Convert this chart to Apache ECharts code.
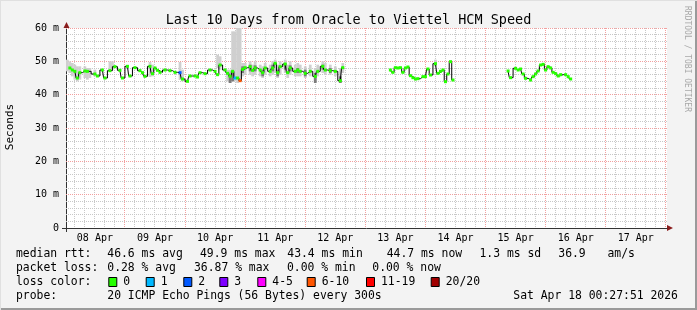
<!DOCTYPE html>
<html><head><meta charset="utf-8">
<script src="https://cdn.jsdelivr.net/npm/echarts@6/dist/echarts.min.js"></script>
<style>html,body{margin:0;padding:0;background:#f3f3f3}#c{width:697px;height:310px}</style>
</head><body><div id="c"></div>
<script>
// ---------------- data ----------------
const titleText = 'Last 10 Days from Oracle to Viettel HCM Speed';
const yAxisName = 'Seconds';
const sideText = 'RRDTOOL / TOBI OETIKER';
// x axis in hours since 08 Apr 00:00; window = last 10 days ending 18 Apr 00:27:51
const xMin = 0.464, xMax = 240.464;
const dayLabels = ['08 Apr','09 Apr','10 Apr','11 Apr','12 Apr','13 Apr','14 Apr','15 Apr','16 Apr','17 Apr'];
const dayLabelHours = [12,36,60,84,108,132,156,180,204,228];
const midnightHours = [24,48,72,96,120,144,168,192,216,240];
const yMajor = [10,20,30,40,50,60];
const yMinor = [2,4,6,8,12,14,16,18,22,24,26,28,32,34,36,38,42,44,46,48,52,54,56,58];

// median RTT (ms), three segments of data
const seg1Hours = [2,3,4,5,6,8,9,12,13,15,16,18,20,22,23,25,26,28,30,31,32,34,35,36,37,38,40,42,44,46,47,49,50,52,53,54,56,58,60,61,62,64,65,66,67,68,69,70,71,72,74,75,76,78,79,80,82,83,84,85,86,88,89,90,92,93,94,96,98,100,101,103,104,106,108,110,111];
const seg1Ms = [48,47.4,47,45,46.6,47.1,47,46.2,45.6,47.4,45,47.2,48.4,47.3,45,48.5,45.6,48.1,47.2,46.6,45.5,48.5,46.3,48,47.3,46.7,47.4,47.2,46.7,46.6,44.7,44,45.6,45.6,45.3,46.6,46.3,47.4,47,46,48.9,47.4,46.4,45.5,47,45,45,44.2,47.6,48.1,48.4,47.3,48,47.4,46.6,48,47,48,49.4,46.6,48.4,49.2,46.6,48,47,47.4,47,46.4,47,45.5,47,48.5,47.4,47.2,47,44.2,48.1];
const seg2Hours = [130,131,132,133,134,135,136,137,138,139,140,141,143,144,145,146,148,149,150,151,152,153,154,155];
const seg2Ms = [47.4,46.7,48.1,48,48.1,46.7,48,48.3,45.7,45.1,44.7,44.8,45.4,45.4,47.7,45.9,49.3,46.4,47,47.4,43.9,46.2,49.9,44.4];
const seg3Hours = [177,178,180,181,182,183,184,186,187,188,189,190,191,192,193,194,195,196,197,198,200,201,202];
const seg3Ms = [47.1,45.1,47.9,47.4,47.7,46.2,44.9,44.4,45.4,46.2,47.1,48.9,49.1,47.4,48.4,48,46.7,46.3,45.6,46,46,45.4,44.7];
// [hour, lost pings of 20]
const lossEvents = [[46,2],[68,1],[70,7]];

// smoke: [hour, low ms, high ms]
const smokeLight = [[1,47,50.5],[2,46.5,50],[3,45.5,49.5],[4,44.5,49],[5,44,48.5],[6,44.5,48.5],[8,45,48.5],[9,44.5,48],[10,45,48],[12,45.5,47.5],
 [18,47,50],[19,47.5,50],[34,45.3,49.8],[35,45.5,49],[46,44.4,49.8],[47,44,47.5],[61,48,52],[62,47.5,51.5],
 [65,44,47.5],[66,43.5,47.5],[67,44,59],[68,44,59],[69,43.5,60],[70,44,60],
 [71,45.5,49.5],[72,46,49.5],[74,46,50],[75,45.5,49],[76,46,50],[78,45.5,49],[79,45,48.5],[80,46,49.5],[82,45.5,49],[83,46,50],[84,46.5,50.5],[85,45,49],[86,46,50],[88,46.5,50.5],[89,45,49],[90,46,50],[92,45.5,49],[93,45.5,49.5],[94,45.5,49],[96,45,48.5],[98,45.5,49],[100,44,48],[101,45.5,49],[103,46.5,50],[104,46,49.5],[106,46,49],[108,45.5,48.5],[110,43.5,48],[111,46.5,49.5],
 [148,48.5,50.5]];
const smokeDark = [[66,43.5,46],[67,44,47],[71,46.5,48.5],[74,47,49],[76,47,48.8],[79,45.5,47.5],[83,47,49],[85,45.5,47.5],[88,47.5,49.5],[90,47,48.8],[93,46.5,48],[96,45.5,47.5],[100,43.5,46.5],[103,47.5,49],[106,46.5,48],[110,43.5,45.5]];

// legend texts
const rttLabel = 'median rtt:';
const rttStats = ['46.6 ms avg','49.9 ms max','43.4 ms min','44.7 ms now','1.3 ms sd','36.9','am/s'];
const lossLabel = 'packet loss:';
const lossStats = ['0.28 % avg','36.87 % max','0.00 % min','0.00 % now'];
const lossColorLabel = 'loss color:';
const lossClasses = ['0','1','2','3','4-5','6-10','11-19','20/20'];
const lossColors = ['#26ff00','#00b8ff','#0059ff','#7e00ff','#ff00ff','#ff5500','#ff0000','#a10000'];
const probeLabel = 'probe:';
const probeText = '20 ICMP Echo Pings (56 Bytes) every 300s';
const dateText = 'Sat Apr 18 00:27:51 2026';

// ---------------- layout / style ----------------
const MONO = '"DejaVu Sans Mono", "Liberation Mono", monospace';
const G = {left:66, top:28, width:601, height:200};
const rttX = [107.3,200,287.3,386.7,479.5,558.3,607.5];
const lossX = [107.3,194,287,372.3];
const boxX = [108.3,145.7,183.3,219.3,257.3,306.7,366,430.7];
const rowY = [254,268,282,296];
const majorColor = '#f2a0a0', minorColor = '#c8c8c8';

function lossClassOf(n){
  if(n<=0) return 0; if(n===1) return 1; if(n===2) return 2; if(n===3) return 3;
  if(n<=5) return 4; if(n<=10) return 5; if(n<=19) return 6; return 7;
}
const lossMap = {}; lossEvents.forEach(e=>{lossMap[e[0]]=e[1];});
function seg(h, v){ return h.map((x,i)=>({value:[x,v[i]], itemStyle:{color:lossColors[lossClassOf(lossMap[x]||0)]}})); }
const segments = [seg(seg1Hours,seg1Ms), seg(seg2Hours,seg2Ms), seg(seg3Hours,seg3Ms)];

const vMinor = [];
for(let h=4; h<xMax; h+=4){ if(h%24!==0) vMinor.push(h); }

function smokeRender(color){
  return function(params, api){
    const x = api.value(0), lo = api.value(1), hi = api.value(2);
    const p1 = api.coord([x-0.55, hi]), p2 = api.coord([x+0.55, lo]);
    return {type:'rect', shape:{x:p1[0], y:p1[1], width:p2[0]-p1[0], height:p2[1]-p1[1]}, style:{fill:color}};
  };
}
function vGrid(color){
  return function(params, api){
    const cs = params.coordSys;
    const x = Math.floor(api.coord([api.value(0), 0])[0]) + 0.5;
    return {type:'line', shape:{x1:x, y1:cs.y, x2:x, y2:cs.y+cs.height}, style:{stroke:color, lineWidth:1, lineDash:[1,1]}};
  };
}
function hGrid(color){
  return function(params, api){
    const cs = params.coordSys;
    const y = Math.floor(api.coord([xMin, api.value(0)])[1]) + 0.5;
    return {type:'line', shape:{x1:cs.x, y1:y, x2:cs.x+cs.width, y2:y}, style:{stroke:color, lineWidth:1, lineDash:[1,1]}};
  };
}

const chart = echarts.init(document.getElementById('c'));
const legendEls = [];
function txt(s, x, y, size, extra){
  legendEls.push({type:'text', x:x, y:y, silent:true, style:Object.assign({text:s, font:size+'px '+MONO, fill:'#000', align:'left', verticalAlign:'middle'}, extra||{})});
}
txt(rttLabel,16,rowY[0],11.4); rttStats.forEach((s,i)=>txt(s,rttX[i],rowY[0],11.4));
txt(lossLabel,16,rowY[1],11.4); lossStats.forEach((s,i)=>txt(s,lossX[i],rowY[1],11.4));
txt(lossColorLabel,16,rowY[2],11.4);
lossClasses.forEach((s,i)=>{
  legendEls.push({type:'rect', silent:true, shape:{x:boxX[i]+0.5, y:rowY[2]-4.5, width:8, height:9}, style:{fill:lossColors[i], stroke:'#000', lineWidth:1}});
  txt(s, boxX[i]+15, rowY[2], 11.4);
});
txt(probeLabel,16,rowY[3],11.4); txt(probeText,107.3,rowY[3],11.4); txt(dateText,513.3,rowY[3],11.4);
legendEls.push({type:'text', x:10, y:127, rotation:Math.PI/2, silent:true, style:{text:yAxisName, font:'11px '+MONO, fill:'#000', align:'center', verticalAlign:'middle'}});
legendEls.push({type:'text', x:687.5, y:59, rotation:-Math.PI/2, silent:true, style:{text:sideText, font:'8px '+MONO, fill:'#a8a8a8', align:'center', verticalAlign:'middle'}});
const arrowColor = '#8b1c1c';
legendEls.push({type:'polygon', silent:true, shape:{points:[[63.5,28],[69.5,28],[66.5,22]]}, style:{fill:arrowColor}});
legendEls.push({type:'polygon', silent:true, shape:{points:[[667,225],[667,231],[673,228]]}, style:{fill:arrowColor}});
legendEls.push({type:'line', silent:true, shape:{x1:62, y1:228.5, x2:67, y2:228.5}, style:{stroke:'#333', lineWidth:1}});
legendEls.push({type:'line', silent:true, shape:{x1:66.5, y1:228, x2:66.5, y2:232}, style:{stroke:'#333', lineWidth:1}});
legendEls.push({type:'line', silent:true, shape:{x1:0, y1:309, x2:697, y2:309}, style:{stroke:'#9a9a9a', lineWidth:2}});
legendEls.push({type:'line', silent:true, shape:{x1:696, y1:0, x2:696, y2:310}, style:{stroke:'#9a9a9a', lineWidth:2}});
legendEls.push({type:'line', silent:true, shape:{x1:0, y1:0.5, x2:697, y2:0.5}, style:{stroke:'#e0e0e0', lineWidth:1}});
legendEls.push({type:'line', silent:true, shape:{x1:0.5, y1:0, x2:0.5, y2:310}, style:{stroke:'#e0e0e0', lineWidth:1}});

const series = [
  {type:'custom', data:vMinor.map(h=>[h]), renderItem:vGrid(minorColor), z:1, silent:true, encode:{x:0}},
  {type:'custom', data:yMinor.map(v=>[v]), renderItem:hGrid(minorColor), z:1, silent:true, encode:{y:0}},
  {type:'custom', data:midnightHours.map(h=>[h]), renderItem:vGrid(majorColor), z:2, silent:true, encode:{x:0}},
  {type:'custom', data:yMajor.map(v=>[v]), renderItem:hGrid(majorColor), z:2, silent:true, encode:{y:0}},
  {type:'custom', data:smokeLight, renderItem:smokeRender('#cfcfcf'), clip:true, z:3, silent:true},
  {type:'custom', data:smokeDark, renderItem:smokeRender('#7c7c7c'), clip:true, z:4, silent:true}
];
segments.forEach(d=>series.push({type:'line', data:d, step:'middle', z:5, silent:true,
   lineStyle:{color:'#000', width:1}, symbol:'rect', symbolSize:[3,3], showSymbol:true, itemStyle:{borderWidth:0}}));

chart.setOption({
  animation:false,
  backgroundColor:'#f3f3f3',
  title:{text:titleText, left:'center', top:8, textStyle:{fontFamily:MONO, fontSize:13.5, fontWeight:'normal', color:'#000'}},
  grid:{left:G.left, top:G.top, width:G.width, height:G.height, show:true, backgroundColor:'#fff', borderWidth:0},
  xAxis:{type:'value', min:xMin, max:xMax,
    axisLine:{show:true, lineStyle:{color:'#333', width:1}},
    axisTick:{show:false}, splitLine:{show:false},
    axisLabel:{customValues:dayLabelHours, formatter:function(v){const i=dayLabelHours.indexOf(Math.round(v)); return i>=0?dayLabels[i]:'';}, fontFamily:MONO, fontSize:10, color:'#000', margin:5}},
  yAxis:{type:'value', min:0, max:60, interval:10,
    axisLine:{show:true, lineStyle:{color:'#333', width:1}},
    axisTick:{show:false},
    axisLabel:{formatter:function(v){return v===0?'0':v+' m';}, fontFamily:MONO, fontSize:10, color:'#000', margin:7},
    splitLine:{show:false}},
  graphic:legendEls,
  series:series
});
</script></body></html>
